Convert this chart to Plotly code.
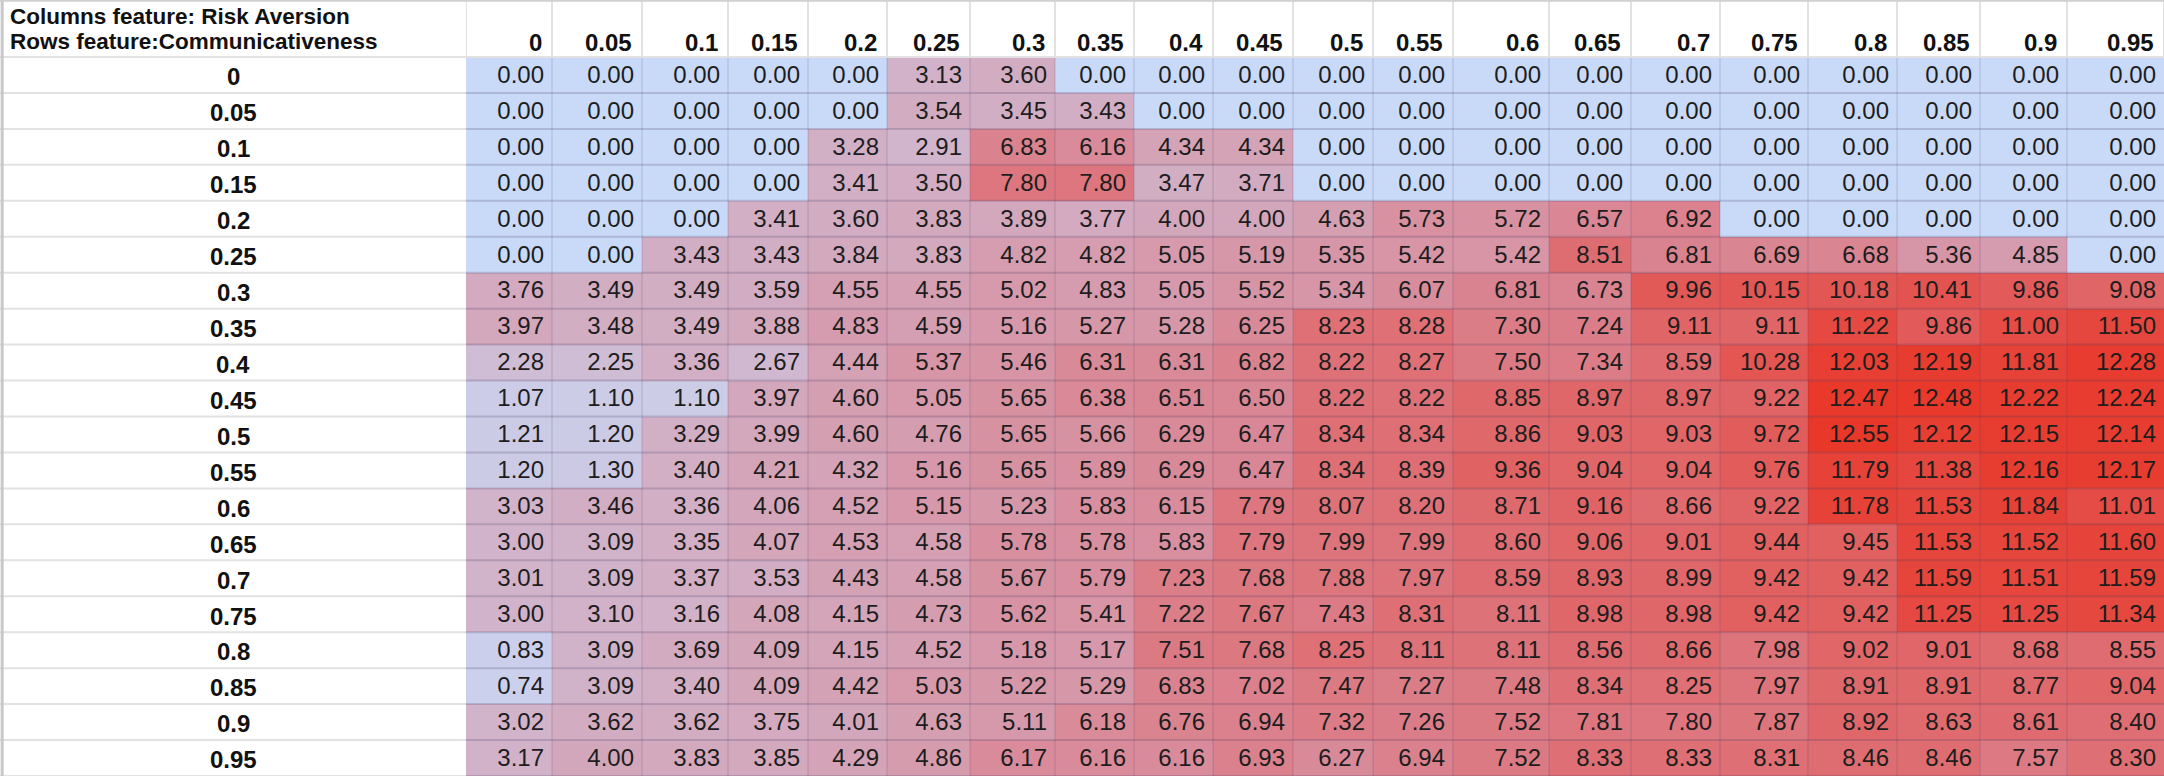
import plotly.graph_objects as go
import numpy as np

# column feature: Risk Aversion, row feature: Communicativeness
col_labels = ["0", "0.05", "0.1", "0.15", "0.2", "0.25", "0.3", "0.35", "0.4", "0.45",
              "0.5", "0.55", "0.6", "0.65", "0.7", "0.75", "0.8", "0.85", "0.9", "0.95"]
row_labels = ["0", "0.05", "0.1", "0.15", "0.2", "0.25", "0.3", "0.35", "0.4", "0.45",
              "0.5", "0.55", "0.6", "0.65", "0.7", "0.75", "0.8", "0.85", "0.9", "0.95"]

values = [
    [0, 0, 0, 0, 0, 3.13, 3.60, 0, 0, 0, 0, 0, 0, 0, 0, 0, 0, 0, 0, 0],
    [0, 0, 0, 0, 0, 3.54, 3.45, 3.43, 0, 0, 0, 0, 0, 0, 0, 0, 0, 0, 0, 0],
    [0, 0, 0, 0, 3.28, 2.91, 6.83, 6.16, 4.34, 4.34, 0, 0, 0, 0, 0, 0, 0, 0, 0, 0],
    [0, 0, 0, 0, 3.41, 3.50, 7.80, 7.80, 3.47, 3.71, 0, 0, 0, 0, 0, 0, 0, 0, 0, 0],
    [0, 0, 0, 3.41, 3.60, 3.83, 3.89, 3.77, 4.00, 4.00, 4.63, 5.73, 5.72, 6.57, 6.92, 0, 0, 0, 0, 0],
    [0, 0, 3.43, 3.43, 3.84, 3.83, 4.82, 4.82, 5.05, 5.19, 5.35, 5.42, 5.42, 8.51, 6.81, 6.69, 6.68, 5.36, 4.85, 0],
    [3.76, 3.49, 3.49, 3.59, 4.55, 4.55, 5.02, 4.83, 5.05, 5.52, 5.34, 6.07, 6.81, 6.73, 9.96, 10.15, 10.18, 10.41, 9.86, 9.08],
    [3.97, 3.48, 3.49, 3.88, 4.83, 4.59, 5.16, 5.27, 5.28, 6.25, 8.23, 8.28, 7.30, 7.24, 9.11, 9.11, 11.22, 9.86, 11.00, 11.50],
    [2.28, 2.25, 3.36, 2.67, 4.44, 5.37, 5.46, 6.31, 6.31, 6.82, 8.22, 8.27, 7.50, 7.34, 8.59, 10.28, 12.03, 12.19, 11.81, 12.28],
    [1.07, 1.10, 1.10, 3.97, 4.60, 5.05, 5.65, 6.38, 6.51, 6.50, 8.22, 8.22, 8.85, 8.97, 8.97, 9.22, 12.47, 12.48, 12.22, 12.24],
    [1.21, 1.20, 3.29, 3.99, 4.60, 4.76, 5.65, 5.66, 6.29, 6.47, 8.34, 8.34, 8.86, 9.03, 9.03, 9.72, 12.55, 12.12, 12.15, 12.14],
    [1.20, 1.30, 3.40, 4.21, 4.32, 5.16, 5.65, 5.89, 6.29, 6.47, 8.34, 8.39, 9.36, 9.04, 9.04, 9.76, 11.79, 11.38, 12.16, 12.17],
    [3.03, 3.46, 3.36, 4.06, 4.52, 5.15, 5.23, 5.83, 6.15, 7.79, 8.07, 8.20, 8.71, 9.16, 8.66, 9.22, 11.78, 11.53, 11.84, 11.01],
    [3.00, 3.09, 3.35, 4.07, 4.53, 4.58, 5.78, 5.78, 5.83, 7.79, 7.99, 7.99, 8.60, 9.06, 9.01, 9.44, 9.45, 11.53, 11.52, 11.60],
    [3.01, 3.09, 3.37, 3.53, 4.43, 4.58, 5.67, 5.79, 7.23, 7.68, 7.88, 7.97, 8.59, 8.93, 8.99, 9.42, 9.42, 11.59, 11.51, 11.59],
    [3.00, 3.10, 3.16, 4.08, 4.15, 4.73, 5.62, 5.41, 7.22, 7.67, 7.43, 8.31, 8.11, 8.98, 8.98, 9.42, 9.42, 11.25, 11.25, 11.34],
    [0.83, 3.09, 3.69, 4.09, 4.15, 4.52, 5.18, 5.17, 7.51, 7.68, 8.25, 8.11, 8.11, 8.56, 8.66, 7.98, 9.02, 9.01, 8.68, 8.55],
    [0.74, 3.09, 3.40, 4.09, 4.42, 5.03, 5.22, 5.29, 6.83, 7.02, 7.47, 7.27, 7.48, 8.34, 8.25, 7.97, 8.91, 8.91, 8.77, 9.04],
    [3.02, 3.62, 3.62, 3.75, 4.01, 4.63, 5.11, 6.18, 6.76, 6.94, 7.32, 7.26, 7.52, 7.81, 7.80, 7.87, 8.92, 8.63, 8.61, 8.40],
    [3.17, 4.00, 3.83, 3.85, 4.29, 4.86, 6.17, 6.16, 6.16, 6.93, 6.27, 6.94, 7.52, 8.33, 8.33, 8.31, 8.46, 8.46, 7.57, 8.30],
]
title_lines = ["Columns feature: Risk Aversion", "Rows feature:Communicativeness"]

# layout (pixels)
W, H = 2164, 776
label_w = 466
header_h = 57
col_widths = [86, 90, 86, 80, 79, 83, 85, 79, 79, 80, 80, 80, 96, 82, 89, 88, 89, 83, 87, 97]
edges = [0] + list(np.cumsum(col_widths))
font = "Liberation Sans Narrow, Liberation Sans, Arial, sans-serif"
pad = 8

z = np.array(values)
n_rows, n_cols = z.shape
rows = list(range(n_rows))

fig = go.Figure()
fig.add_trace(go.Heatmap(
    z=z, x=edges, y=rows,
    colorscale=[[0, "#c9daf8"], [0.5, "#d98a99"], [1, "#e8382a"]],
    zmin=0, zmax=z.max(), showscale=False, hoverinfo="skip",
))

# cell values, right aligned like a spreadsheet
tx, ty, tt = [], [], []
for i in range(n_rows):
    for j in range(n_cols):
        tx.append(edges[j + 1] - pad)
        ty.append(i + 0.05)
        tt.append(f"{values[i][j]:.2f}")
fig.add_trace(go.Scatter(
    x=tx, y=ty, text=tt, mode="text", textposition="middle left",
    textfont=dict(family=font, size=24, color="#1d1d1d"), hoverinfo="skip",
))

shapes = []
grid = "rgba(70,60,100,0.22)"
for e in edges[1:-1]:
    shapes.append(dict(type="line", xref="x", yref="y", x0=e, x1=e, y0=-0.5, y1=n_rows - 0.5,
                       line=dict(color=grid, width=1), layer="above"))
for r in range(n_rows):
    shapes.append(dict(type="line", xref="x", yref="y", x0=0, x1=edges[-1], y0=r + 0.5, y1=r + 0.5,
                       line=dict(color=grid, width=2), layer="above"))
# white header / label column grid
light = "#e2e2e2"
for e in edges:
    shapes.append(dict(type="line", xref="x", yref="paper", x0=e, x1=e, y0=1 - header_h / H, y1=1,
                       line=dict(color=light, width=2)))
for r in range(n_rows):
    shapes.append(dict(type="line", xref="paper", yref="y", x0=0, x1=label_w / W, y0=r + 0.5, y1=r + 0.5,
                       line=dict(color=light, width=2)))
shapes.append(dict(type="line", xref="paper", yref="paper", x0=0, x1=1, y0=1 - header_h / H, y1=1 - header_h / H,
                   line=dict(color=light, width=2)))
shapes.append(dict(type="line", xref="paper", yref="paper", x0=0.001, x1=0.001, y0=0, y1=1,
                   line=dict(color="#c8c8c8", width=3)))
shapes.append(dict(type="line", xref="paper", yref="paper", x0=0, x1=1, y0=0.999, y1=0.999,
                   line=dict(color="#d0d0d0", width=2)))

annotations = []
for j, lab in enumerate(col_labels):
    annotations.append(dict(x=edges[j + 1] - pad, y=1 - 42 / H, xref="x", yref="paper", text=f"<b>{lab}</b>",
                            showarrow=False, xanchor="right", yanchor="middle",
                            font=dict(family=font, size=24, color="#111")))
for i, lab in enumerate(row_labels):
    annotations.append(dict(x=label_w / 2 / W, y=i + 0.05, xref="paper", yref="y", text=f"<b>{lab}</b>",
                            showarrow=False, xanchor="center", yanchor="middle",
                            font=dict(family=font, size=24, color="#111")))
for k, line in enumerate(title_lines):
    annotations.append(dict(x=8 / W, y=1 - (16 + 25 * k) / H, xref="paper", yref="paper",
                            text=f"<b>{line}</b>", showarrow=False, xanchor="left", yanchor="middle",
                            font=dict(family=font, size=22.5, color="#111")))

fig.update_layout(
    width=W, height=H, margin=dict(l=0, r=0, t=0, b=0),
    paper_bgcolor="white", plot_bgcolor="white",
    xaxis=dict(domain=[label_w / W, 1], range=[0, edges[-1]], visible=False, fixedrange=True),
    yaxis=dict(domain=[0, 1 - header_h / H], range=[n_rows - 0.5, -0.5], visible=False, fixedrange=True),
    shapes=shapes, annotations=annotations, showlegend=False,
)

# the page body has a default 8px margin; drop it so the figure fills the window
fig.write_html("out.html", config={"displayModeBar": False},
               post_script="document.body.style.margin='0';document.body.style.overflow='hidden';")
